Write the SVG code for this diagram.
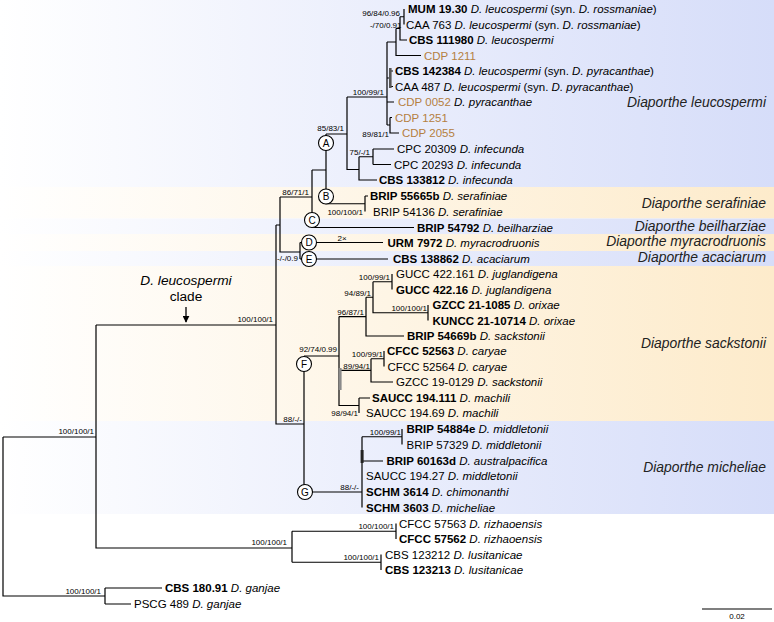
<svg xmlns="http://www.w3.org/2000/svg" width="774" height="622" viewBox="0 0 774 622">
<defs>
<linearGradient id="gb" x1="0" y1="0" x2="1" y2="0"><stop offset="0" stop-color="#ffffff"/><stop offset="1" stop-color="#d6ddf9"/></linearGradient>
<linearGradient id="go" x1="0" y1="0" x2="1" y2="0"><stop offset="0" stop-color="#ffffff"/><stop offset="1" stop-color="#fdebcb"/></linearGradient>
<marker id="ah" viewBox="0 0 10 10" refX="9" refY="5" markerWidth="7" markerHeight="7" markerUnits="userSpaceOnUse" orient="auto"><path d="M0,0 L10,5 L0,10 Z" fill="#000"/></marker>
</defs>
<style>
text{font-family:"Liberation Sans",Arial,sans-serif;fill:#000}
.tx{font-size:11.5px}
.b{font-weight:bold}
.i{font-style:italic}
.cdp{fill:#b5803f}
.sup{font-size:8px;text-anchor:end}
.cl{font-size:13.9px;font-style:italic;fill:#222;text-anchor:end}
.br{stroke:#000;stroke-width:1.2;fill:none}
.circ circle{fill:#fff;stroke:#000;stroke-width:1.1}
.circ text{font-size:10px;text-anchor:middle}
</style>
<rect width="774" height="622" fill="#fff"/>
<g id="bands">
<rect x="0" y="0" width="774" height="187" fill="url(#gb)"/>
<rect x="0" y="187" width="774" height="31.5" fill="url(#go)"/>
<rect x="0" y="218.5" width="774" height="15.5" fill="url(#gb)"/>
<rect x="0" y="234" width="774" height="17" fill="url(#go)"/>
<rect x="0" y="251" width="774" height="15" fill="url(#gb)"/>
<rect x="0" y="266" width="774" height="155" fill="url(#go)"/>
<rect x="0" y="421" width="774" height="93" fill="url(#gb)"/>
</g>
<g id="connectors">
<path class="br" d="M404,9V24.5M400,16.75H404M400,16.75V40H407M396,28.4H400M396,28.4V55.5H421M387,42H396M387,42V125M387,78H390M390,71V86.5M390,71H393M390,86.5H393M387,102H394M387,125H390M390,117.5V133H399M390,117.5H392M347,97H387M347,97V169.5H359M359,156.75V180H377M359,156.75H373M373,149V164.5M373,149H394M373,164.5H391"/>
<path class="br" d="M326,134H347M326,134V203.75H365M365,196V211.5M365,196H368M312,170H326M312,170V227.5H414M280,197H312M280,197V252H300M300,242.5V259M300,242.5H383M300,259H388M276,225H280M276,225V424H304M96,325H276"/>
<path class="br" d="M392,274V289.5M373,281.75H392M373,281.75V312.75H428M428,305V320.5M366,297.25H373M366,297.25V336H404M339,316.6H366M339,316.6V405.5H359M359,398V413M359,398H370M371,358.75H384M384,351V366.5M371,358.75V382H393M339,370.4H371M304,356H339M304,356V492H362M362,436.75V507.5M362,436.75H402M402,429V444.5M362,461H383"/>
<path class="br" d="M3,437H96M96,325V548H292M292,531.25V562.25M292,531.25H396M396,523.5V539M292,562.25H381M381,554.5V570M3,437V596H105M105,588V604M105,588H162M105,604H131"/>
<rect x="389" y="68" width="2.6" height="20" fill="#555"/>
<rect x="338.6" y="368" width="3" height="22" fill="#8a8a8a"/>
<rect x="360.6" y="450" width="3" height="13" fill="#222"/>
<line x1="186" y1="307" x2="186" y2="322" stroke="#000" stroke-width="1.3" marker-end="url(#ah)"/>
<line x1="702" y1="609" x2="772" y2="609" stroke="#000" stroke-width="1.2"/>
</g>
<g id="scale"><text x="737" y="618.5" font-size="8" text-anchor="middle">0.02</text></g>
<g id="clade-label"><text x="186" y="285" font-size="13.7" text-anchor="middle" font-style="italic">D. leucospermi</text><text x="186" y="301" font-size="13.7" text-anchor="middle">clade</text></g>
<g id="clade-names">
<text class="cl" x="766" y="106.5">Diaporthe leucospermi</text>
<text class="cl" x="766" y="207.5">Diaporthe serafiniae</text>
<text class="cl" x="766" y="230.7">Diaporthe beilharziae</text>
<text class="cl" x="766" y="245.7">Diaporthe myracrodruonis</text>
<text class="cl" x="766" y="262.3">Diaporthe acaciarum</text>
<text class="cl" x="766" y="348.3">Diaporthe sackstonii</text>
<text class="cl" x="766" y="471.7">Diaporthe micheliae</text>
</g>
<g id="supports">
<text class="sup" x="400" y="15.5">96/84/0.96</text>
<text class="sup" x="401.5" y="28">-/70/0.91</text>
<text class="sup" x="384" y="95">100/99/1</text>
<text class="sup" x="389" y="137">89/81/1</text>
<text class="sup" x="344" y="131">85/83/1</text>
<text class="sup" x="370" y="155">75/-/1</text>
<text class="sup" x="309" y="195">86/71/1</text>
<text class="sup" x="363" y="214.5">100/100/1</text>
<text x="342" y="240.5" font-size="8" text-anchor="middle">2×</text>
<text class="sup" x="298" y="261">-/-/0.9</text>
<text class="sup" x="273" y="322">100/100/1</text>
<text class="sup" x="390" y="279.5">100/99/1</text>
<text class="sup" x="371" y="295.5">94/89/1</text>
<text class="sup" x="427" y="311">100/100/1</text>
<text class="sup" x="364" y="315">96/87/1</text>
<text class="sup" x="337" y="352">92/74/0.99</text>
<text class="sup" x="383" y="357">100/99/1</text>
<text class="sup" x="370" y="368.5">89/94/1</text>
<text class="sup" x="358" y="416">98/94/1</text>
<text class="sup" x="302" y="421.5">88/-/-</text>
<text class="sup" x="401" y="434.5">100/99/1</text>
<text class="sup" x="359" y="489.5">88/-/-</text>
<text class="sup" x="94" y="434">100/100/1</text>
<text class="sup" x="287" y="545">100/100/1</text>
<text class="sup" x="394" y="529">100/100/1</text>
<text class="sup" x="379" y="560">100/100/1</text>
<text class="sup" x="101" y="593.5">100/100/1</text>
</g>
<g id="circles">
<g id="node-A" class="circ"><circle cx="326" cy="143" r="7.5"/><text x="326" y="146.6">A</text></g>
<g id="node-B" class="circ"><circle cx="326" cy="196.5" r="7.5"/><text x="326" y="200.1">B</text></g>
<g id="node-C" class="circ"><circle cx="312" cy="220" r="7.5"/><text x="312" y="223.6">C</text></g>
<g id="node-D" class="circ"><circle cx="309" cy="242.5" r="7.5"/><text x="309" y="246.1">D</text></g>
<g id="node-E" class="circ"><circle cx="309" cy="259" r="7.5"/><text x="309" y="262.6">E</text></g>
<g id="node-F" class="circ"><circle cx="304" cy="364" r="7.5"/><text x="304" y="367.6">F</text></g>
<g id="node-G" class="circ"><circle cx="305" cy="492" r="7.5"/><text x="305" y="495.6">G</text></g>
</g>
<g id="taxa" class="tx">
<g id="t01"><text x="408" y="13"><tspan class="b">MUM 19.30</tspan> <tspan class="i">D. leucospermi</tspan> (syn. <tspan class="i">D. rossmaniae</tspan>)</text></g>
<g id="t02"><text x="406" y="28.5">CAA 763 <tspan class="i">D. leucospermi</tspan> (syn. <tspan class="i">D. rossmaniae</tspan>)</text></g>
<g id="t03"><text x="409" y="44"><tspan class="b">CBS 111980</tspan> <tspan class="i">D. leucospermi</tspan></text></g>
<g id="t04"><text class="cdp" x="424" y="59.5">CDP 1211</text></g>
<g id="t05"><text x="395" y="75"><tspan class="b">CBS 142384</tspan> <tspan class="i">D. leucospermi</tspan> (syn. <tspan class="i">D. pyracanthae</tspan>)</text></g>
<g id="t06"><text x="395" y="90.5">CAA 487 <tspan class="i">D. leucospermi</tspan> (syn. <tspan class="i">D. pyracanthae</tspan>)</text></g>
<g id="t07"><text x="398" y="106"><tspan class="cdp">CDP 0052</tspan> <tspan class="i">D. pyracanthae</tspan></text></g>
<g id="t08"><text class="cdp" x="395" y="121.5">CDP 1251</text></g>
<g id="t09"><text class="cdp" x="402" y="137">CDP 2055</text></g>
<g id="t10"><text x="397" y="153">CPC 20309 <tspan class="i">D. infecunda</tspan></text></g>
<g id="t11"><text x="394" y="168.5">CPC 20293 <tspan class="i">D. infecunda</tspan></text></g>
<g id="t12"><text x="379" y="184"><tspan class="b">CBS 133812</tspan> <tspan class="i">D. infecunda</tspan></text></g>
<g id="t13"><text x="370" y="200"><tspan class="b">BRIP 55665b</tspan> <tspan class="i">D. serafiniae</tspan></text></g>
<g id="t14"><text x="373" y="215.5">BRIP 54136 <tspan class="i">D. serafiniae</tspan></text></g>
<g id="t15"><text x="417" y="231.5"><tspan class="b">BRIP 54792</tspan> <tspan class="i">D. beilharziae</tspan></text></g>
<g id="t16"><text x="387.5" y="246.5"><tspan class="b">URM 7972</tspan> <tspan class="i">D. myracrodruonis</tspan></text></g>
<g id="t17"><text x="393" y="263"><tspan class="b">CBS 138862</tspan> <tspan class="i">D. acaciarum</tspan></text></g>
<g id="t18"><text x="396" y="278">GUCC 422.161 <tspan class="i">D. juglandigena</tspan></text></g>
<g id="t19"><text x="396" y="293.5"><tspan class="b">GUCC 422.16</tspan> <tspan class="i">D. juglandigena</tspan></text></g>
<g id="t20"><text x="432.5" y="309"><tspan class="b">GZCC 21-1085</tspan> <tspan class="i">D. orixae</tspan></text></g>
<g id="t21"><text x="432.5" y="324.5"><tspan class="b">KUNCC 21-10714</tspan> <tspan class="i">D. orixae</tspan></text></g>
<g id="t22"><text x="407" y="340"><tspan class="b">BRIP 54669b</tspan> <tspan class="i">D. sackstonii</tspan></text></g>
<g id="t23"><text x="387" y="355"><tspan class="b">CFCC 52563</tspan> <tspan class="i">D. caryae</tspan></text></g>
<g id="t24"><text x="387.5" y="370.5">CFCC 52564 <tspan class="i">D. caryae</tspan></text></g>
<g id="t25"><text x="396" y="386">GZCC 19-0129 <tspan class="i">D. sackstonii</tspan></text></g>
<g id="t26"><text x="372" y="402"><tspan class="b">SAUCC 194.111</tspan> <tspan class="i">D. machili</tspan></text></g>
<g id="t27"><text x="366" y="417">SAUCC 194.69 <tspan class="i">D. machili</tspan></text></g>
<g id="t28"><text x="406.5" y="433"><tspan class="b">BRIP 54884e</tspan> <tspan class="i">D. middletonii</tspan></text></g>
<g id="t29"><text x="406.5" y="448.5">BRIP 57329 <tspan class="i">D. middletonii</tspan></text></g>
<g id="t30"><text x="386.5" y="465"><tspan class="b">BRIP 60163d</tspan> <tspan class="i">D. australpacifica</tspan></text></g>
<g id="t31"><text x="366" y="480">SAUCC 194.27 <tspan class="i">D. middletonii</tspan></text></g>
<g id="t32"><text x="366" y="496"><tspan class="b">SCHM 3614</tspan> <tspan class="i">D. chimonanthi</tspan></text></g>
<g id="t33"><text x="366" y="511.5"><tspan class="b">SCHM 3603</tspan> <tspan class="i">D. micheliae</tspan></text></g>
<g id="t34"><text x="399" y="527.5">CFCC 57563 <tspan class="i">D. rizhaoensis</tspan></text></g>
<g id="t35"><text x="399" y="543"><tspan class="b">CFCC 57562</tspan> <tspan class="i">D. rizhaoensis</tspan></text></g>
<g id="t36"><text x="385" y="558.5">CBS 123212 <tspan class="i">D. lusitanicae</tspan></text></g>
<g id="t37"><text x="385" y="574"><tspan class="b">CBS 123213</tspan> <tspan class="i">D. lusitanicae</tspan></text></g>
<g id="t38"><text x="165" y="592"><tspan class="b">CBS 180.91</tspan> <tspan class="i">D. ganjae</tspan></text></g>
<g id="t39"><text x="134" y="608">PSCG 489 <tspan class="i">D. ganjae</tspan></text></g>
</g>
</svg>
